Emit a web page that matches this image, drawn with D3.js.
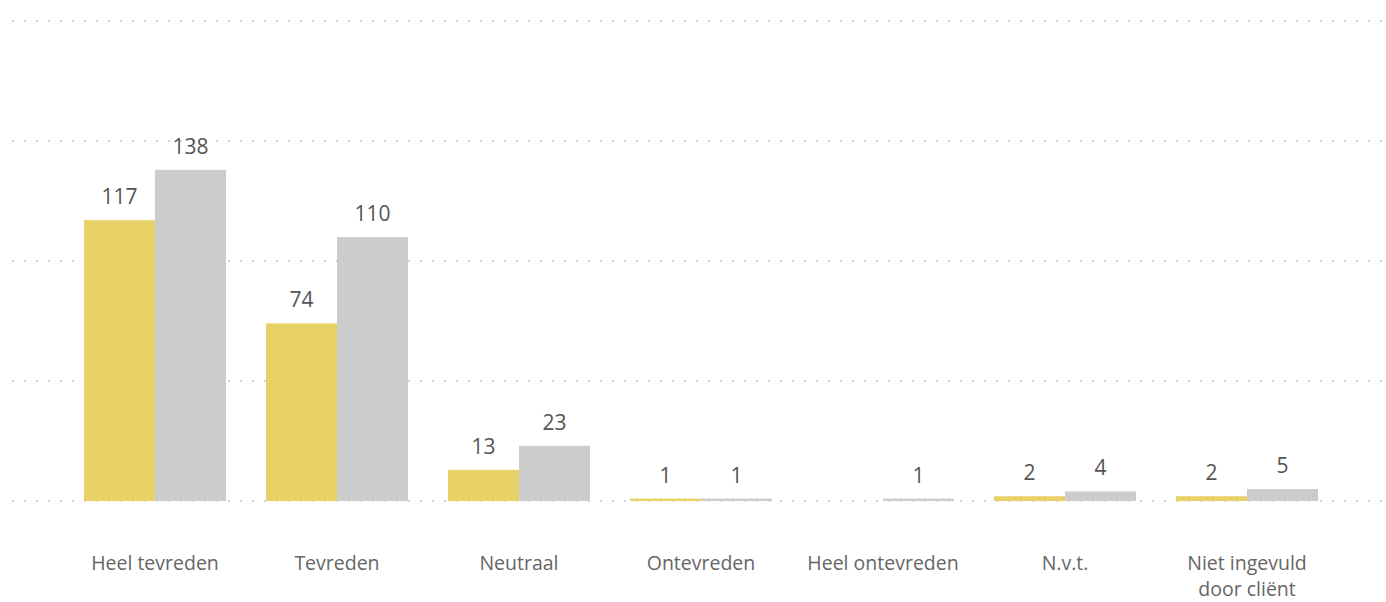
<!DOCTYPE html>
<html>
<head>
<meta charset="utf-8">
<script src="https://cdn.jsdelivr.net/npm/d3@7"></script>
<style>
  body { margin: 0; background: #fff; }
  svg text { font-family: "Open Sans", "Noto Sans", sans-serif; }
</style>
</head>
<body>
<div id="chart-area"></div>
<script>
// categories and series
var categories = ["Heel tevreden", "Tevreden", "Neutraal", "Ontevreden", "Heel ontevreden", "N.v.t.", "Niet ingevuld door cliënt"];
var seriesA = [117, 74, 13, 1, 0, 2, 2];
var seriesB = [138, 110, 23, 1, 1, 4, 5];
var gridTicks = [0, 50, 100, 150, 200];

var width = 1386, height = 602;

var svg = d3.select("#chart-area").append("svg")
    .attr("width", width)
    .attr("height", height);

var x = d3.scaleBand()
    .domain(categories)
    .range([84, 1318])
    .paddingInner(0.22)
    .paddingOuter(0);

var sub = d3.scaleBand()
    .domain(["a", "b"])
    .range([0, x.bandwidth()]);

var y = d3.scaleLinear()
    .domain([0, 200])
    .range([501, 21]);

// dotted gridlines
svg.selectAll(".grid")
    .data(gridTicks)
    .enter()
    .append("line")
    .attr("x1", 12)
    .attr("x2", 1384)
    .attr("y1", function (d) { return y(d); })
    .attr("y2", function (d) { return y(d); })
    .attr("stroke", "#d6d6d6")
    .attr("stroke-width", 2)
    .attr("stroke-dasharray", "2,10");

var rows = categories.map(function (c, i) {
    return [{ cat: c, key: "a", value: seriesA[i] }, { cat: c, key: "b", value: seriesB[i] }];
});
var flat = [].concat.apply([], rows);

var colors = { a: "#e8d166", b: "#cccccc" };

svg.selectAll(".bar")
    .data(flat)
    .enter()
    .append("rect")
    .attr("x", function (d) { return x(d.cat) + sub(d.key); })
    .attr("width", sub.bandwidth())
    .attr("y", function (d) { return y(d.value); })
    .attr("height", function (d) { return y(0) - y(d.value); })
    .attr("fill", function (d) { return colors[d.key]; });

// data labels
svg.selectAll(".lbl")
    .data(flat.filter(function (d) { return d.value > 0; }))
    .enter()
    .append("text")
    .attr("x", function (d) { return x(d.cat) + sub(d.key) + sub.bandwidth() / 2; })
    .attr("y", function (d) { return y(d.value) - 16; })
    .attr("text-anchor", "middle")
    .attr("font-size", 21)
    .attr("fill", "#555")
    .text(function (d) { return d.value; });

// category labels (wrapped)
var wrapped = {
    "Niet ingevuld door cliënt": ["Niet ingevuld", "door cliënt"]
};

var catLabels = svg.selectAll(".cat")
    .data(categories)
    .enter()
    .append("text")
    .attr("text-anchor", "middle")
    .attr("font-size", 19.5)
    .attr("fill", "#666")
    .attr("x", function (d) { return x(d) + x.bandwidth() / 2; })
    .attr("y", 570);

catLabels.each(function (d) {
    var lines = wrapped[d] || [d];
    var t = d3.select(this);
    lines.forEach(function (l, i) {
        t.append("tspan")
            .attr("x", x(d) + x.bandwidth() / 2)
            .attr("dy", i === 0 ? 0 : 26)
            .text(l);
    });
});
</script>
</body>
</html>
